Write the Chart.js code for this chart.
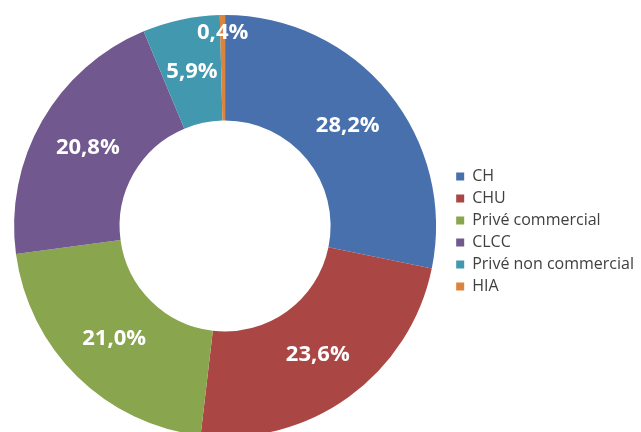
<!DOCTYPE html>
<html>
<head>
<meta charset="utf-8">
<script src="https://cdn.jsdelivr.net/npm/chart.js@4"></script>
<style>
  html, body { margin: 0; padding: 0; background: #fff; }
  #wrap { width: 641px; height: 432px; overflow: hidden; position: relative; }
  #wrap canvas { position: absolute; left: 0; top: 0; }
</style>
</head>
<body>
<div id="wrap"><canvas id="DonutChart" width="641" height="454"></canvas></div>
<script>
const categories = ["CH", "CHU", "Privé commercial", "CLCC", "Privé non commercial", "HIA"];
const shares = [28.2, 23.6, 21.0, 20.8, 5.9, 0.4];
const sliceColors = ["#4870AC", "#AA4644", "#89A54E", "#71588F", "#4198AF", "#DB843D"];

// percentage labels written on each slice
const sliceLabels = {
    id: 'sliceLabels',
    afterDatasetsDraw(chart) {
        const ctx = chart.ctx;
        const meta = chart.getDatasetMeta(0);
        ctx.save();
        ctx.font = "bold 22px 'Open Sans'";
        ctx.fillStyle = "#FFFFFF";
        ctx.textAlign = "center";
        ctx.textBaseline = "middle";
        meta.data.forEach(function(arc, i) {
            let pos = arc.tooltipPosition();
            if (shares[i] < 2) {
                // tiny slice: put the label near the outer edge
                const props = arc.getProps(['x', 'y', 'startAngle', 'endAngle', 'outerRadius']);
                const a = (props.startAngle + props.endAngle) / 2;
                const r = props.outerRadius - 18;
                pos = { x: props.x + Math.cos(a) * r, y: props.y + Math.sin(a) * r };
            }
            ctx.fillText(shares[i].toFixed(1).replace('.', ',') + '%', pos.x, pos.y);
        });
        ctx.restore();
    }
};

new Chart(document.getElementById('DonutChart'), {
    type: 'doughnut',
    data: {
        labels: categories,
        datasets: [{
            data: shares,
            backgroundColor: sliceColors,
            borderWidth: 0
        }]
    },
    options: {
        responsive: false,
        animation: false,
        cutout: '50%',
        layout: { padding: { top: 15, bottom: 17, left: -2, right: -3 } },
        plugins: {
            tooltip: { enabled: false },
            legend: {
                position: 'right',
                title: { display: true, text: '', font: { size: 1 }, padding: 5 },
                labels: {
                    boxWidth: 8,
                    boxHeight: 8,
                    padding: 6,
                    color: '#404040',
                    font: { family: "'Open Sans'", size: 16 }
                }
            }
        }
    },
    plugins: [sliceLabels]
});
</script>
</body>
</html>
